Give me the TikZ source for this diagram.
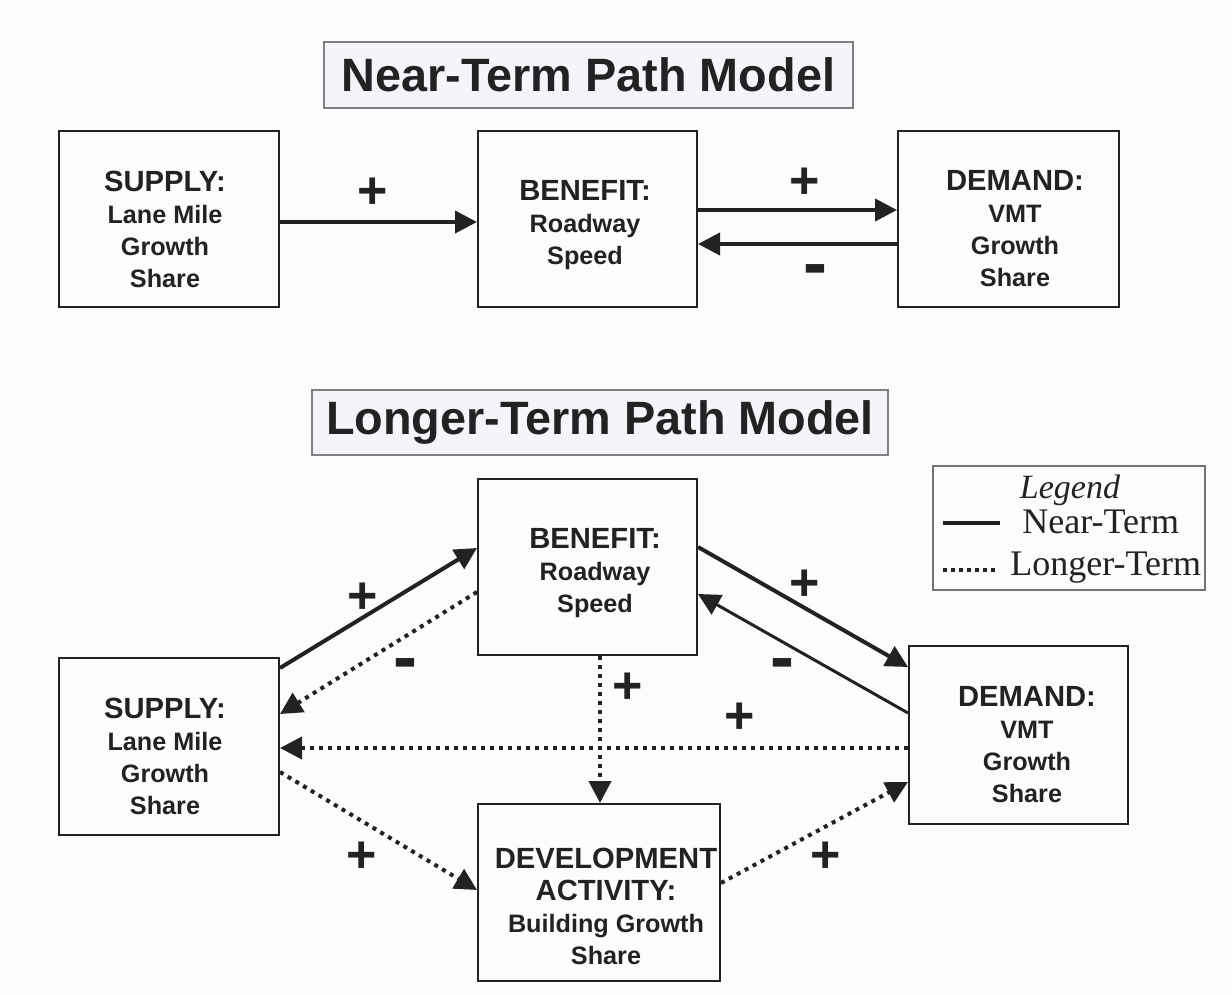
\documentclass[tikz,border=0pt]{standalone}
\usepackage{fontspec}
\setmainfont{Liberation Sans}
\newfontfamily\legfont{Liberation Serif}
\usetikzlibrary{arrows.meta,calc}
\definecolor{ink}{HTML}{222222}
\definecolor{bgc}{HTML}{FCFCFE}
\definecolor{ttlfill}{HTML}{F4F4FA}
\newcommand\boxhead[1]{{\fontsize{14.6}{16}\selectfont #1}}
\tikzset{
  box/.style={draw=ink, line width=1pt, inner sep=0pt},
  btxt/.style={align=center, inner sep=0pt, text=ink, font=\bfseries\fontsize{12.6}{16}\selectfont},
  ttl/.style={draw=black!50, line width=0.8pt, fill=ttlfill, inner sep=0pt, text=ink, font=\bfseries\fontsize{23.4}{23.4}\selectfont},
  sgn/.style={inner sep=0pt, text=ink, font=\bfseries\fontsize{26}{26}\selectfont},
  msgn/.style={inner sep=0pt, text=ink, font=\bfseries\fontsize{36}{36}\selectfont},
  tip/.style={-{Triangle[length=11pt,width=11pt]}},
  near/.style={draw=ink, line width=2pt, tip},
  nearthin/.style={draw=ink, line width=1.5pt, tip},
  longer/.style={draw=ink, line width=2pt, dash pattern=on 2pt off 2.5pt, tip},
  legtxt/.style={inner sep=0pt, text=ink, font=\legfont\fontsize{18}{18}\selectfont}
}
\begin{document}
\begin{tikzpicture}[x=0.5pt,y=-0.5pt]
\useasboundingbox[fill=bgc] (0,0) rectangle (1232,995);

% ---------------- Near-term ----------------
\node[ttl, minimum width=264.5pt, minimum height=33pt] (t1) at (588.5,75) {Near-Term Path Model};

\node[box, minimum width=110pt, minimum height=88pt] (sup1) at (169,219) {};
\node[box, minimum width=109.5pt, minimum height=88pt] (ben1) at (587.5,219) {};
\node[box, minimum width=110.5pt, minimum height=88pt] (dem1) at (1008.5,219) {};

\node[btxt] (sup1t) at (165,229) {\boxhead{SUPPLY:}\\Lane Mile\\Growth\\Share};
\node[btxt] (ben1t) at (585,225) {\boxhead{BENEFIT:}\\Roadway\\Speed};
\node[btxt] (dem1t) at (1015,229) {\boxhead{DEMAND:}\\VMT\\Growth\\Share};

\draw[near] ([yshift=-1.5pt]sup1.east) -- ([yshift=-1.5pt]ben1.west);
\draw[near] ([yshift=4.5pt]ben1.east) -- ([yshift=4.5pt]dem1.west);
\draw[near] ([yshift=-12.5pt]dem1.west) -- ([yshift=-12.5pt]ben1.east);

\node[sgn] (p1) at (373,193) {+};
\node[sgn] (p2) at (805,183) {+};
\node[msgn] (m1) at (815,276) {-};

% ---------------- Longer-term ----------------
\node[ttl, minimum width=288pt, minimum height=32.5pt] (t2) at (600,422.5) {Longer-Term Path Model};

\node[box, minimum width=109.5pt, minimum height=88pt] (ben2) at (587.5,567) {};
\node[box, minimum width=110pt, minimum height=88.5pt] (sup2) at (169,746.5) {};
\node[box, minimum width=109.5pt, minimum height=89pt] (dem2) at (1018.5,735) {};
\node[box, minimum width=121pt, minimum height=88.5pt] (dev) at (599,892.5) {};

\node[btxt] (ben2t) at (595,573) {\boxhead{BENEFIT:}\\Roadway\\Speed};
\node[btxt] (sup2t) at (165,756) {\boxhead{SUPPLY:}\\Lane Mile\\Growth\\Share};
\node[btxt] (dem2t) at (1027,745) {\boxhead{DEMAND:}\\VMT\\Growth\\Share};
\node[btxt] (devt) at (606,906) {\boxhead{DEVELOPMENT}\\\boxhead{ACTIVITY:}\\Building Growth\\Share};

% connectors
\draw[near] ([yshift=39.25pt]sup2.east) -- ([yshift=9.5pt]ben2.west);
\draw[longer] ([yshift=-12.5pt]ben2.west) -- ([yshift=16.25pt]sup2.east);
\draw[near] ([yshift=10pt]ben2.east) -- ([yshift=34pt]dem2.west);
\draw[nearthin] ([yshift=11pt]dem2.west) -- ([yshift=-13.5pt]ben2.east);
\draw[longer] ([xshift=6.25pt]ben2.south) -- ([xshift=6.25pt]ben2.south |- dev.north);
\draw[longer] ([yshift=-6.5pt]dem2.west) -- ([yshift=-6.5pt]dem2.west -| sup2.east);
\draw[longer] ([yshift=-12.75pt]sup2.east) -- ([yshift=1.25pt]dev.west);
\draw[longer] ([yshift=4.75pt]dev.east) -- ([yshift=-23.5pt]dem2.west);

\node[sgn] (p3) at (363,598) {+};
\node[msgn] (m2) at (405,670) {-};
\node[sgn] (p4) at (805,585) {+};
\node[msgn] (m3) at (782,670) {-};
\node[sgn] (p5) at (628,688) {+};
\node[sgn] (p6) at (740,718) {+};
\node[sgn] (p7) at (362,857) {+};
\node[sgn] (p8) at (826,857) {+};

% ---------------- Legend ----------------
\node[draw=black!55, line width=0.8pt, inner sep=0pt, minimum width=136pt, minimum height=62pt] (leg) at (1069,528) {};
\node[inner sep=0pt, text=ink, font=\legfont\itshape\fontsize{17}{17}\selectfont] (legt) at (1070,490) {Legend};
\coordinate (l1a) at (943,523);
\coordinate (l1b) at (1000,523);
\coordinate (l2a) at (943,570);
\coordinate (l2b) at (996,570);
\draw[draw=ink, line width=2pt] (l1a) -- (l1b);
\draw[draw=ink, line width=2pt, dash pattern=on 2pt off 2pt] (l2a) -- (l2b);
\node[legtxt, anchor=west] (legn) at (1022,522) {Near-Term};
\node[legtxt, anchor=west] (legl) at (1010,568) {Longer-Term};
\end{tikzpicture}
\end{document}
